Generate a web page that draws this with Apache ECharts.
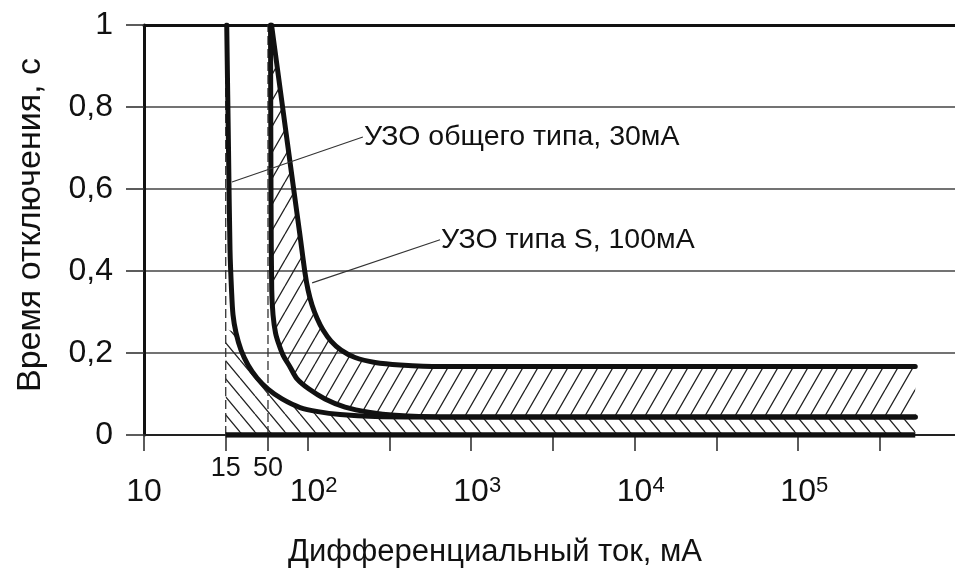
<!DOCTYPE html>
<html><head><meta charset="utf-8">
<script src="https://cdn.jsdelivr.net/npm/echarts@6/dist/echarts.min.js"></script>
<style>html,body{margin:0;padding:0;background:#fff}#c{width:955px;height:576px}</style>
</head><body><div id="c"></div>
<script>
// ---- data (x: differential current, mA, log scale; y: trip time, s) ----
const xAxisMinMA = 10;
const xAxisMaxMA = 910000;
const tickValuesMA = [10, 31.6, 57.3, 100, 316, 1000, 3162, 10000, 31623, 100000, 316228];
const labelExponents = [1, 2, 3, 4, 5];
const markerValuesMA = [31.6, 57.3];
const markerLabels = ['15', '50'];
const yTicks = [0, 0.2, 0.4, 0.6, 0.8, 1];

// RCD general type, 30 mA
const curve30_I = [32.05, 32.87, 33.57, 34.29, 35.02, 36.54, 39.21, 43.26, 49.11, 57.34, 69.83, 89.98, 115.9, 158.0, 258.7, 487.6, 520000];
const curve30_t = [1.0, 0.695, 0.451, 0.354, 0.293, 0.249, 0.207, 0.171, 0.139, 0.112, 0.088, 0.067, 0.057, 0.050, 0.045, 0.044, 0.044];
// RCD type S, 100 mA – lower boundary
const curveSlow_I = [59.39, 59.81, 60.40, 61.52, 63.72, 66.94, 70.83, 78.16, 86.28, 102.1, 127.9, 169.6, 241.2, 342.9, 646.3, 520000];
const curveSlow_t = [1.0, 0.573, 0.354, 0.293, 0.249, 0.220, 0.195, 0.166, 0.137, 0.112, 0.088, 0.068, 0.055, 0.048, 0.044, 0.044];
// RCD type S, 100 mA – upper boundary
const curveShigh_I = [60.25, 69.44, 82.11, 89.48, 96.54, 100.7, 106.5, 114.3, 124.4, 139.2, 160.3, 195.2, 258.7, 367.9, 646.3, 520000];
const curveShigh_t = [1.0, 0.817, 0.602, 0.493, 0.395, 0.354, 0.317, 0.285, 0.256, 0.229, 0.207, 0.189, 0.177, 0.171, 0.167, 0.167];
// bottom thick line (t = 0)
const zeroLine_I = [31.6, 520000];
const zeroLine_t = [0, 0];
// hatched zone under the 30 mA curve starts on the marker line at this time
const hatch30Top_t = 0.26;
// callouts
const annotTexts = ['УЗО общего типа, 30мА', 'УЗО типа S, 100мА'];
const annotFrom_I = [34.5, 106.7];
const annotFrom_t = [0.617, 0.371];
const annotTo_I = [218, 646];
const annotTo_t = [0.727, 0.476];

const xName = 'Дифференциальный ток, мА';
const yName = 'Время отключения, с';

// ---- build ----
const L = v => Math.log10(v);
const FONT = '"Liberation Sans", Arial, sans-serif';
const INK = '#111';

function pairs(I, t) { return I.map((v, i) => [L(v), t[i]]); }

function hatch(w, h, dir, lw, color) {
  const c = document.createElement('canvas');
  c.width = w; c.height = h;
  const g = c.getContext('2d');
  g.strokeStyle = color; g.lineWidth = lw;
  g.beginPath();
  for (let k = -1; k <= 1; k++) {
    if (dir > 0) { g.moveTo(k * w, h); g.lineTo(k * w + w, 0); }
    else { g.moveTo(k * w, 0); g.lineTo(k * w + w, h); }
  }
  g.stroke();
  return c;
}
const patSlash = hatch(15, 26, 1, 1.3, '#222');
const patBack = hatch(15, 18, -1, 1.3, '#222');

const c30 = pairs(curve30_I, curve30_t);
const cLow = pairs(curveSlow_I, curveSlow_t);
const cHigh = pairs(curveShigh_I, curveShigh_t);

// polygon of S band: upper boundary then lower reversed
const bandPoly = cHigh.concat(cLow.slice().reverse());
// polygon under 30 mA curve, right of marker line
const m15 = L(markerValuesMA[0]);
const poly30 = [[m15, 0], [m15, hatch30Top_t]]
  .concat(c30.filter(p => p[1] < hatch30Top_t))
  .concat([[L(zeroLine_I[1]), 0]]);

function polySeries(poly, pat) {
  return {
    type: 'custom', z: 1, silent: true,
    data: [[L(xAxisMinMA), 0]],
    renderItem: function (params, api) {
      return {
        type: 'polygon',
        shape: { points: poly.map(p => api.coord(p)) },
        style: { fill: { image: pat, repeat: 'repeat' }, stroke: null }
      };
    }
  };
}

function lineSeries(data, style, extra) {
  return Object.assign({
    type: 'line', data: data, symbol: 'none', z: 3, silent: true,
    lineStyle: style
  }, extra || {});
}

const labelFmt = function (v) {
  const n = Math.round(v);
  if (n === 1) return '{b|10}';
  return '{sp|' + n + '}{b|10}{s|' + n + '}';
};

const series = [
  polySeries(bandPoly, patSlash),
  polySeries(poly30, patBack),
];
markerValuesMA.forEach(m => {
  series.push(lineSeries([[L(m), 0], [L(m), 1]], { color: '#333', width: 1.3, type: [9, 4] }, { z: 2 }));
});
series.push(lineSeries(pairs(zeroLine_I, zeroLine_t), { color: INK, width: 5.5 }));
[c30, cLow, cHigh].forEach(c => {
  series.push(lineSeries(c, { color: INK, width: 5, join: 'round', cap: 'round' }, { smooth: 0.3 }));
});
annotTexts.forEach((txt, i) => {
  series.push(lineSeries(
    [[L(annotFrom_I[i]), annotFrom_t[i]], [L(annotTo_I[i]), annotTo_t[i]]],
    { color: '#333', width: 1.1 },
    { endLabel: { show: true, formatter: txt, fontSize: 28.5, fontFamily: FONT, color: INK, distance: 1 } }
  ));
});

const xMin = L(xAxisMinMA), xMax = L(xAxisMaxMA);
const option = {
  animation: false,
  backgroundColor: '#fff',
  grid: { left: 144, right: 0, top: 25, bottom: 141, containLabel: false, outerBoundsMode: 'none' },
  xAxis: [
    {
      type: 'value', min: xMin, max: xMax, position: 'bottom',
      axisLine: { show: true, onZero: false, lineStyle: { color: '#222', width: 2 } },
      axisTick: { show: true, length: 16, customValues: tickValuesMA.map(L), lineStyle: { color: '#333', width: 1.6 } },
      axisLabel: {
        customValues: labelExponents.slice(), formatter: labelFmt, margin: 40,
        rich: {
          b: { fontSize: 32, fontFamily: FONT, color: INK, lineHeight: 34 },
          s: { fontSize: 22, fontFamily: FONT, color: INK, verticalAlign: 'top', lineHeight: 18 },
          sp: { fontSize: 22, fontFamily: FONT, color: 'rgba(0,0,0,0)', verticalAlign: 'top', lineHeight: 18 }
        }
      },
      splitLine: { show: false },
      name: xName, nameLocation: 'middle', nameGap: 102,
      nameTextStyle: { fontSize: 31, fontFamily: FONT, color: INK, padding: [0, 109, 0, 0] }
    },
    {
      type: 'value', min: xMin, max: xMax, position: 'bottom',
      axisLine: { show: false }, axisTick: { show: false }, splitLine: { show: false },
      axisLabel: {
        customValues: markerValuesMA.map(L), margin: 20, fontSize: 27, fontFamily: FONT, color: INK,
        formatter: function (v) {
          let best = 0;
          markerValuesMA.forEach((m, i) => { if (Math.abs(L(m) - v) < Math.abs(L(markerValuesMA[best]) - v)) best = i; });
          return markerLabels[best];
        }
      }
    },
    {
      type: 'value', min: xMin, max: xMax, position: 'top',
      axisLine: { show: true, lineStyle: { color: INK, width: 3 } },
      axisTick: { show: false }, axisLabel: { show: false }, splitLine: { show: false }
    }
  ],
  yAxis: {
    type: 'value', min: yTicks[0], max: yTicks[yTicks.length - 1], interval: yTicks[1] - yTicks[0],
    axisLine: { show: true, lineStyle: { color: INK, width: 3 } },
    axisTick: { show: true, length: 18, lineStyle: { color: '#333', width: 1.6 } },
    axisLabel: {
      margin: 31, fontSize: 32, fontFamily: FONT, color: INK,
      formatter: v => String(Math.round(v * 10) / 10).replace('.', ',')
    },
    splitLine: { show: true, lineStyle: { color: '#444', width: 1.6 } },
    name: yName, nameLocation: 'middle', nameGap: 96, nameRotate: 90,
    nameTextStyle: { fontSize: 34, fontFamily: FONT, color: INK, padding: [0, 0, 0, 10] }
  },
  series: series
};

const chart = echarts.init(document.getElementById('c'), null, { renderer: 'canvas' });
chart.setOption(option);
</script>
</body></html>
